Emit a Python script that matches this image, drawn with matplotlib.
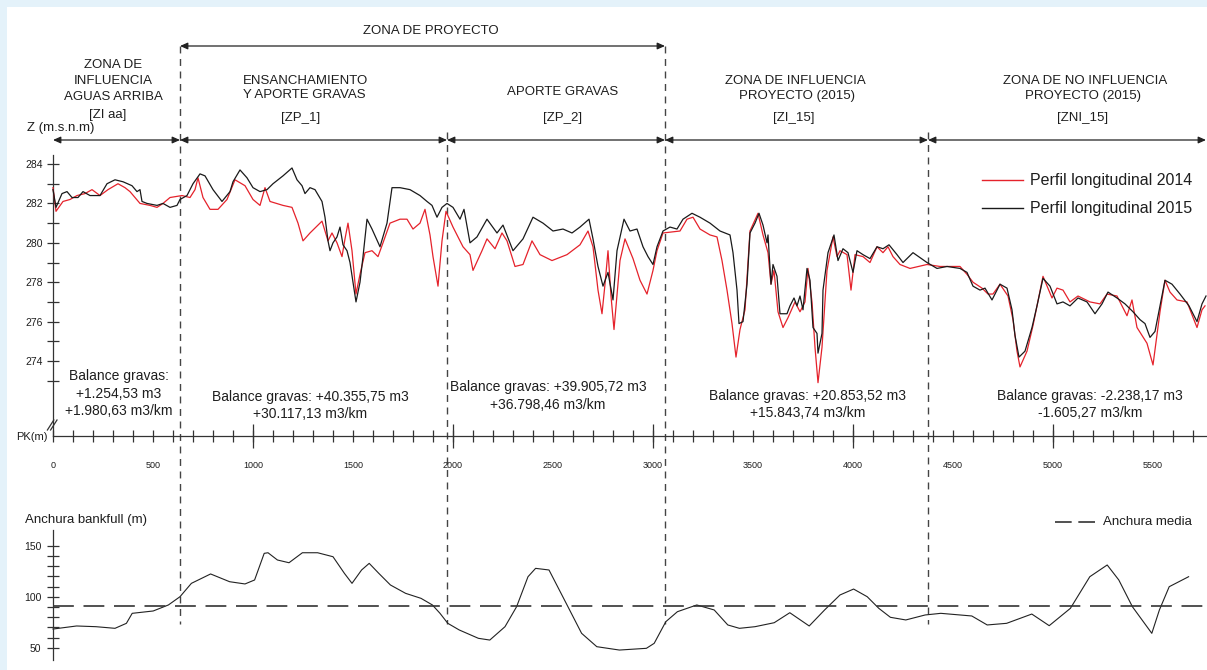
import matplotlib.pyplot as plt
from matplotlib.patches import Rectangle

plt.rcParams['font.family'] = ['Liberation Sans', 'DejaVu Sans']

# perfil longitudinal 2015 (PK en m, cota en m.s.n.m)
pk_2015 = [0, 15, 45, 70, 95, 125, 150, 185, 235, 270, 310, 350, 395, 420, 435, 445, 470, 520, 550, 585,
           620, 635, 670, 700, 735, 760, 800, 845, 885, 900, 935, 970, 1000, 1035, 1070, 1100, 1150, 1195,
           1220, 1245, 1260, 1285, 1310, 1345, 1360, 1375, 1385, 1400, 1420, 1435, 1450, 1470, 1485, 1500,
           1515, 1535, 1550, 1570, 1595, 1635, 1670, 1695, 1735, 1785, 1835, 1870, 1895, 1920, 1945, 1970,
           2000, 2035, 2055, 2085, 2120, 2170, 2220, 2250, 2300, 2350, 2400, 2450, 2500, 2550, 2595, 2635,
           2680, 2700, 2725, 2750, 2775, 2800, 2820, 2855, 2885, 2920, 2950, 2975, 3000, 3020, 3050, 3085,
           3120, 3150, 3195, 3235, 3285, 3335, 3385, 3400, 3420, 3430, 3450, 3470, 3485, 3510, 3530, 3550,
           3570, 3575, 3590, 3600, 3620, 3635, 3670, 3685, 3705, 3720, 3735, 3750, 3770, 3785, 3800, 3820,
           3825, 3845, 3850, 3875, 3905, 3925, 3950, 3975, 4000, 4020, 4050, 4085, 4120, 4150, 4180, 4220,
           4250, 4300, 4370, 4420, 4470, 4535, 4570, 4600, 4635, 4660, 4695, 4735, 4770, 4795, 4810, 4830,
           4860, 4895, 4920, 4950, 4985, 5020, 5050, 5085, 5125, 5170, 5210, 5245, 5275, 5320, 5360, 5400,
           5435, 5460, 5485, 5510, 5535, 5560, 5595, 5635, 5680, 5720, 5745, 5765]
z_2015 = [282.7, 281.8, 282.5, 282.6, 282.3, 282.3, 282.6, 282.4, 282.4, 283.0, 283.2, 283.1, 282.9, 282.6,
          282.7, 282.1, 282.0, 281.9, 282.0, 281.8, 281.9, 282.2, 282.4, 283.0, 283.5, 283.4, 282.7, 282.1,
          282.6, 283.1, 283.7, 283.3, 282.8, 282.6, 282.7, 283.0, 283.4, 283.8, 283.2, 282.9, 282.5, 282.8,
          282.7, 282.1, 281.3, 280.1, 279.6, 280.0, 280.3, 280.8, 279.9, 279.6, 279.0, 278.0, 277.0, 278.0,
          279.3, 281.2, 280.7, 279.8, 281.0, 282.8, 282.8, 282.7, 282.4, 282.1, 281.9, 281.3, 281.8, 282.0,
          281.8, 281.2, 281.7, 280.0, 280.3, 281.2, 280.5, 280.9, 279.6, 280.2, 281.3, 281.0, 280.6, 280.7,
          280.5, 280.8, 281.2, 280.2, 278.8, 277.8, 278.5, 277.1, 279.6, 281.2, 280.6, 280.7, 279.8, 279.3,
          278.9, 279.8, 280.6, 280.8, 280.7, 281.2, 281.5, 281.3, 281.0, 280.6, 280.4, 279.5, 277.6, 275.9,
          276.0, 277.9, 280.5, 281.0, 281.5, 280.9, 280.0, 280.4, 277.9, 278.9, 278.3, 276.4, 276.4, 276.8,
          277.2, 276.8, 277.3, 276.6, 278.7, 278.1, 275.7, 275.4, 274.4, 275.4, 277.6, 279.5, 280.4, 279.1,
          279.7, 279.5, 278.5, 279.6, 279.4, 279.2, 279.8, 279.7, 279.9, 279.4, 279.0, 279.5, 279.0, 278.7,
          278.8, 278.7, 278.5, 277.8, 277.6, 277.7, 277.1, 277.9, 277.7, 276.6, 275.3, 274.2, 274.5, 275.7,
          276.8, 278.2, 277.8, 276.9, 277.0, 276.8, 277.2, 277.0, 276.4, 276.9, 277.5, 277.2, 276.9, 276.5,
          276.1, 275.9, 275.2, 275.5, 276.8, 278.1, 277.9, 277.4, 276.8, 276.0, 276.9, 277.3]

# perfil longitudinal 2014
pk_2014 = [0, 15, 50, 85, 120, 160, 195, 235, 275, 325, 360, 385, 435, 485, 520, 550, 585, 645, 685, 710,
           725, 750, 785, 825, 870, 910, 960, 1000, 1035, 1060, 1085, 1150, 1195, 1225, 1250, 1285, 1345,
           1375, 1395, 1420, 1445, 1460, 1475, 1495, 1515, 1535, 1560, 1595, 1625, 1650, 1685, 1735, 1770,
           1800, 1835, 1860, 1885, 1900, 1925, 1945, 1965, 2000, 2050, 2085, 2100, 2145, 2170, 2210, 2245,
           2270, 2310, 2350, 2395, 2435, 2495, 2570, 2635, 2675, 2700, 2725, 2745, 2760, 2775, 2790, 2805,
           2835, 2860, 2900, 2935, 2970, 3000, 3020, 3050, 3135, 3170, 3200, 3235, 3285, 3320, 3345, 3370,
           3395, 3415, 3435, 3460, 3485, 3525, 3550, 3575, 3590, 3605, 3625, 3650, 3675, 3710, 3735, 3760,
           3775, 3795, 3810, 3825, 3845, 3870, 3900, 3920, 3935, 3970, 3990, 4010, 4050, 4085, 4120, 4150,
           4175, 4200, 4235, 4285, 4370, 4435, 4535, 4570, 4600, 4645, 4675, 4700, 4735, 4775, 4800, 4820,
           4835, 4870, 4900, 4950, 4995, 5020, 5050, 5085, 5125, 5185, 5235, 5270, 5320, 5370, 5395, 5420,
           5470, 5500, 5535, 5560, 5585, 5620, 5670, 5720, 5745, 5760]
z_2014 = [282.8, 281.6, 282.1, 282.2, 282.4, 282.5, 282.7, 282.4, 282.7, 283.0, 282.8, 282.6, 282.0, 281.9,
          281.8, 282.0, 282.3, 282.4, 282.3, 282.7, 283.3, 282.3, 281.7, 281.7, 282.2, 283.2, 282.9, 282.2,
          281.9, 282.8, 282.1, 281.9, 281.8, 281.0, 280.1, 280.5, 281.1, 280.1, 280.5, 280.0, 279.3, 280.2,
          281.0, 279.6, 277.4, 278.4, 279.5, 279.6, 279.3, 280.0, 281.0, 281.2, 281.2, 280.7, 281.0, 281.7,
          280.4, 279.3, 277.8, 280.1, 281.6, 280.8, 279.8, 279.4, 278.6, 279.6, 280.2, 279.7, 280.5, 280.1,
          278.8, 278.9, 280.1, 279.4, 279.1, 279.4, 279.9, 280.6, 279.8, 277.6, 276.4, 277.9, 279.6, 277.3,
          275.6, 279.1, 280.2, 279.2, 278.1, 277.4, 278.6, 279.6, 280.5, 280.6, 281.2, 281.3, 280.7, 280.4,
          280.3, 279.1, 277.6, 275.9, 274.2, 275.6, 276.6, 280.6, 281.5, 280.4, 279.5, 277.9, 278.6, 276.5,
          275.7, 276.2, 277.0, 276.5, 277.0, 278.7, 277.0, 274.7, 272.9, 274.7, 278.6, 280.3, 279.3, 279.6,
          279.4, 277.6, 279.4, 279.3, 279.0, 279.8, 279.5, 279.8, 279.3, 278.9, 278.7, 278.9, 278.8, 278.8,
          278.4, 278.0, 277.7, 277.4, 277.4, 277.9, 277.3, 276.1, 274.5, 273.7, 274.5, 275.8, 278.3, 277.2,
          277.7, 277.6, 277.0, 277.3, 277.0, 276.9, 277.4, 277.3, 276.3, 277.1, 275.7, 274.9, 273.8, 276.5,
          278.1, 277.5, 277.1, 277.0, 275.7, 276.6, 276.8]

# anchura bankfull (m)
pk_anchura = [0, 118, 215, 310, 367, 396, 501, 577, 635, 692, 788, 883, 960, 1008, 1056, 1075, 1122, 1180,
              1247, 1323, 1400, 1457, 1495, 1543, 1581, 1629, 1687, 1763, 1840, 1897, 1935, 1974, 2031, 2127,
              2184, 2260, 2318, 2375, 2413, 2480, 2566, 2643, 2719, 2832, 2967, 3006, 3064, 3122, 3219, 3306,
              3374, 3432, 3510, 3606, 3684, 3781, 3858, 3935, 4003, 4071, 4129, 4187, 4264, 4361, 4439, 4594,
              4671, 4768, 4894, 4981, 5087, 5184, 5271, 5329, 5397, 5494, 5532, 5581, 5678]
anchura = [68.3, 71.3, 70.6, 69.0, 73.9, 83.7, 86.0, 91.9, 100.0, 113.1, 122.3, 114.7, 112.5, 116.4, 142.5,
           143.1, 136.0, 133.3, 143.1, 143.1, 139.2, 122.9, 113.1, 126.2, 132.7, 122.9, 111.5, 103.3, 98.4,
           91.9, 83.7, 73.9, 67.4, 59.2, 57.5, 70.6, 90.2, 119.6, 127.8, 126.2, 93.5, 64.1, 51.0, 47.7, 49.4,
           54.3, 75.5, 85.3, 91.9, 87.0, 72.3, 69.0, 70.6, 74.5, 84.3, 71.3, 87.0, 101.7, 107.5, 100.0, 88.6,
           79.8, 77.2, 82.1, 83.7, 81.1, 72.3, 73.9, 83.0, 71.6, 88.6, 119.6, 131.1, 116.4, 90.2, 64.1, 87.0,
           109.8, 119.6]
anchura_media = 91

# limites entre zonas (PK)
limites = [635, 1970, 3060, 4375]
pk_fin = 5765

cabeceras = [["ZONA DE", "INFLUENCIA", "AGUAS ARRIBA", "[ZI aa]"],
             ["ENSANCHAMIENTO", "Y APORTE GRAVAS", "[ZP_1]"],
             ["APORTE GRAVAS", "[ZP_2]"],
             ["ZONA DE INFLUENCIA", "PROYECTO (2015)", "[ZI_15]"],
             ["ZONA DE NO INFLUENCIA", "PROYECTO (2015)", "[ZNI_15]"]]
balances = [["Balance gravas:", "+1.254,53 m3", "+1.980,63 m3/km"],
            ["Balance gravas: +40.355,75 m3", "+30.117,13 m3/km"],
            ["Balance gravas: +39.905,72 m3", "+36.798,46 m3/km"],
            ["Balance gravas: +20.853,52 m3", "+15.843,74 m3/km"],
            ["Balance gravas: -2.238,17 m3", "-1.605,27 m3/km"]]

# posiciones de los textos (x en PK, y en pixeles)
pos_cab = [[(300, 65), (300, 81.5), (300, 97.5), (275, 115)],
           [(1262, 81.5), (1255, 95.5), (1240, 118)],
           [(2548, 92), (2550, 118)],
           [(3713, 81.5), (3718, 96.5), (3705, 118)],
           [(5160, 81.5), (5150, 96.5), (5147, 118)]]
pos_bal = [[(328, 376), (328, 394), (328, 411)],
           [(1285, 397), (1285, 414)],
           [(2475, 387), (2475, 405)],
           [(3772, 396), (3772, 413)],
           [(5185, 396), (5185, 413)]]

TXT = '#1e1e1e'
EJE = '#333333'
ROJO = '#e5222b'
W, H = 1207, 670

fig = plt.figure(figsize=(W / 100, H / 100), dpi=100, facecolor='#e4f2fa')
fig.add_artist(Rectangle((7 / W, 0), (W - 7) / W, (H - 7) / H, transform=fig.transFigure,
                         facecolor='white', edgecolor='none', zorder=-10))

# capa de anotaciones: x en PK, y en pixeles
ax0 = fig.add_axes([0, 0, 1, 1])
ax0.set_xlim(-265, 5770)
ax0.set_ylim(H, 0)
ax0.axis('off')

# perfil longitudinal
ax1 = fig.add_axes([0, 190 / H, 1, 340 / H])
ax1.patch.set_visible(False)
ax1.set_xlim(-265, 5770)
ax1.set_ylim(267.96, 285.22)
ax1.plot(pk_2014, z_2014, color=ROJO, lw=0.9, zorder=3)
ax1.plot(pk_2015, z_2015, color='#1a1a1a', lw=0.9, zorder=4)
for s in ['top', 'right']:
    ax1.spines[s].set_visible(False)
ax1.spines['left'].set_position(('data', 0))
ax1.spines['left'].set_bounds(270.19, 284.46)
ax1.spines['bottom'].set_position(('data', 270.19))
ax1.spines['bottom'].set_bounds(0, 5770)
for s in ['left', 'bottom']:
    ax1.spines[s].set_color(EJE)
    ax1.spines[s].set_linewidth(0.9)
ax1.set_yticks([274, 276, 278, 280, 282, 284])
ax1.set_yticks([273, 275, 277, 279, 281, 283], minor=True)
ax1.set_xticks(range(0, 5501, 500))
ax1.set_xticks(range(0, 5701, 100), minor=True)
ax1.tick_params(which='both', direction='inout', length=8.6, width=0.9, color=EJE, labelcolor=TXT)
ax1.tick_params(axis='x', labelsize=6.5, pad=13.5)
ax1.tick_params(axis='y', labelsize=7.5, pad=3)
ax1.vlines([1000, 2000, 3000, 4000, 5000], 269.58, 270.8, color=EJE, lw=0.9)

# anchura bankfull
ax2 = fig.add_axes([0, 0, 1, 150 / H])
ax2.patch.set_visible(False)
ax2.set_xlim(-265, 5770)
ax2.set_ylim(28.14, 175.2)
ax2.plot(pk_anchura, anchura, color='#222222', lw=0.8)
ax2.hlines(anchura_media, 0, 5770, colors=EJE, linestyles=(0, (12.5, 5.8)), lw=1.2)
for s in ['top', 'right', 'bottom']:
    ax2.spines[s].set_visible(False)
ax2.spines['left'].set_position(('data', 0))
ax2.spines['left'].set_bounds(37.9, 165.4)
ax2.spines['left'].set_color(EJE)
ax2.spines['left'].set_linewidth(0.9)
ax2.set_xticks([])
ax2.set_yticks([50, 100, 150])
ax2.set_yticks([60, 70, 80, 90, 110, 120, 130, 140], minor=True)
ax2.tick_params(which='both', direction='inout', length=8.6, width=0.9, color=EJE, labelcolor=TXT,
                labelsize=7.5, pad=4)

# lineas de separacion de zonas
inicio = [46, 132, 46, 132]
for x, y0 in zip(limites, inicio):
    ax0.plot([x, x], [y0, 624], color='#444444', lw=1, ls=(0, (5, 4)))

flecha = dict(arrowstyle='<|-|>,head_length=0.45,head_width=0.2', lw=0.9, color='#222222',
              shrinkA=0, shrinkB=0, mutation_scale=10)
tramos = [0] + limites + [pk_fin]
for a, b in zip(tramos[:-1], tramos[1:]):
    ax0.annotate('', xy=(b, 140), xytext=(a, 140), arrowprops=flecha)
ax0.annotate('', xy=(limites[2], 46), xytext=(limites[0], 46), arrowprops=flecha)
ax0.text(1890, 31, 'ZONA DE PROYECTO', ha='center', va='center', fontsize=9.5, color=TXT)

for lineas, pos in zip(cabeceras, pos_cab):
    for t, (x, y) in zip(lineas, pos):
        ax0.text(x, y, t, ha='center', va='center', fontsize=9.5, color=TXT)
for lineas, pos in zip(balances, pos_bal):
    for t, (x, y) in zip(lineas, pos):
        ax0.text(x, y, t, ha='center', va='center', fontsize=10, color=TXT)

ax0.text(-130, 128.5, 'Z (m.s.n.m)', ha='left', va='center', fontsize=9.5, color=TXT)
ax0.text(-25, 437, 'PK(m)', ha='right', va='center', fontsize=8, color=TXT)
ax0.text(-140, 520, 'Anchura bankfull (m)', ha='left', va='center', fontsize=9.5, color=TXT)

# corte del eje Z
for dx in [-12, 4]:
    ax0.plot([dx - 16, dx + 16], [430, 420], color=EJE, lw=0.9)

# leyendas
ax0.plot([4645, 4850], [180, 180], color=ROJO, lw=1)
ax0.plot([4645, 4850], [208, 208], color='#1a1a1a', lw=1)
ax0.text(4885, 180, 'Perfil longitudinal 2014', ha='left', va='center', fontsize=11.5, color=TXT)
ax0.text(4885, 208, 'Perfil longitudinal 2015', ha='left', va='center', fontsize=11.5, color=TXT)
ax0.plot([5010, 5215], [522, 522], color=EJE, lw=1.2, ls=(0, (10, 4)))
ax0.text(5250, 522, 'Anchura media', ha='left', va='center', fontsize=9.5, color=TXT)

fig.savefig('out.png', dpi=100, facecolor=fig.get_facecolor())
